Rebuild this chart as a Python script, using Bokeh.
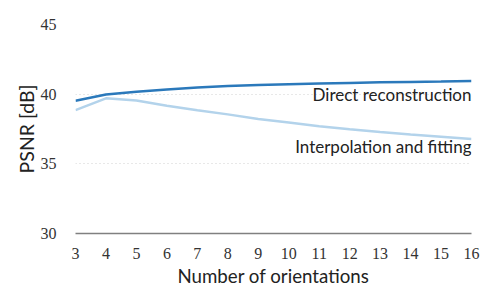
from bokeh.plotting import figure
from bokeh.models import Range1d, FixedTicker
from bokeh.core.properties import value
from bokeh.embed import file_html
from bokeh.resources import INLINE

orientations = [3, 4, 5, 6, 7, 8, 9, 10, 11, 12, 13, 14, 15, 16]
direct = [39.53, 39.97, 40.17, 40.34, 40.47, 40.58, 40.66, 40.72, 40.77, 40.81, 40.85, 40.88, 40.91, 40.95]
interp = [38.85, 39.70, 39.55, 39.17, 38.85, 38.55, 38.22, 37.96, 37.70, 37.48, 37.28, 37.10, 36.94, 36.78]
y_ticks = [30, 35, 40, 45]
x_ticks = orientations

SANS = "Lato"
SERIF = "Liberation Serif"

p = figure(width=490, height=296, output_backend="svg", toolbar_location=None,
           x_range=Range1d(3, 16), y_range=Range1d(30, 45),
           min_border_left=75, min_border_right=19, min_border_top=24, min_border_bottom=63)
p.outline_line_color = None
p.xgrid.grid_line_color = None
p.ygrid.grid_line_color = "#d0d0d0"
p.ygrid.grid_line_dash = "1 3"
p.ygrid.grid_line_width = 1

p.xaxis.ticker = FixedTicker(ticks=x_ticks)
p.yaxis.ticker = FixedTicker(ticks=y_ticks)
for ax in (p.xaxis[0], p.yaxis[0]):
    ax.major_tick_line_color = None
    ax.minor_tick_line_color = None
    ax.major_label_text_font = SERIF
    ax.major_label_text_font_size = "16px"
    ax.major_label_text_color = "#333333"
    ax.axis_label_text_font = SANS
    ax.axis_label_text_font_style = "normal"
    ax.axis_label_text_color = "#222222"
p.xaxis.axis_label_text_font_size = "18.7px"
p.yaxis.axis_label_text_font_size = "19.5px"
p.xaxis.axis_line_color = "#808080"
p.xaxis.axis_line_width = 1.5
p.yaxis.axis_line_color = None
p.xaxis.major_label_standoff = 8
p.yaxis.major_label_standoff = 13
p.xaxis.axis_label = "Number of orientations"
p.yaxis.axis_label = "PSNR [dB]"
p.xaxis.axis_label_standoff = 3
p.yaxis.axis_label_standoff = 0

p.line(orientations, interp, line_color="#b3d3eb", line_width=2.5)
p.line(orientations, direct, line_color="#2b79bb", line_width=2.5)

p.text(x=[orientations[-1]], y=[39.95], text=["Direct reconstruction"],
       text_align="right", text_baseline="alphabetic",
       text_font=value(SANS), text_font_size="17px", text_color="#222222")
p.text(x=[orientations[-1]], y=[36.23], text=["Interpolation and fitting"],
       text_align="right", text_baseline="alphabetic",
       text_font=value(SANS), text_font_size="17px", text_color="#222222")

open("out.html", "w").write(file_html(p, INLINE))
